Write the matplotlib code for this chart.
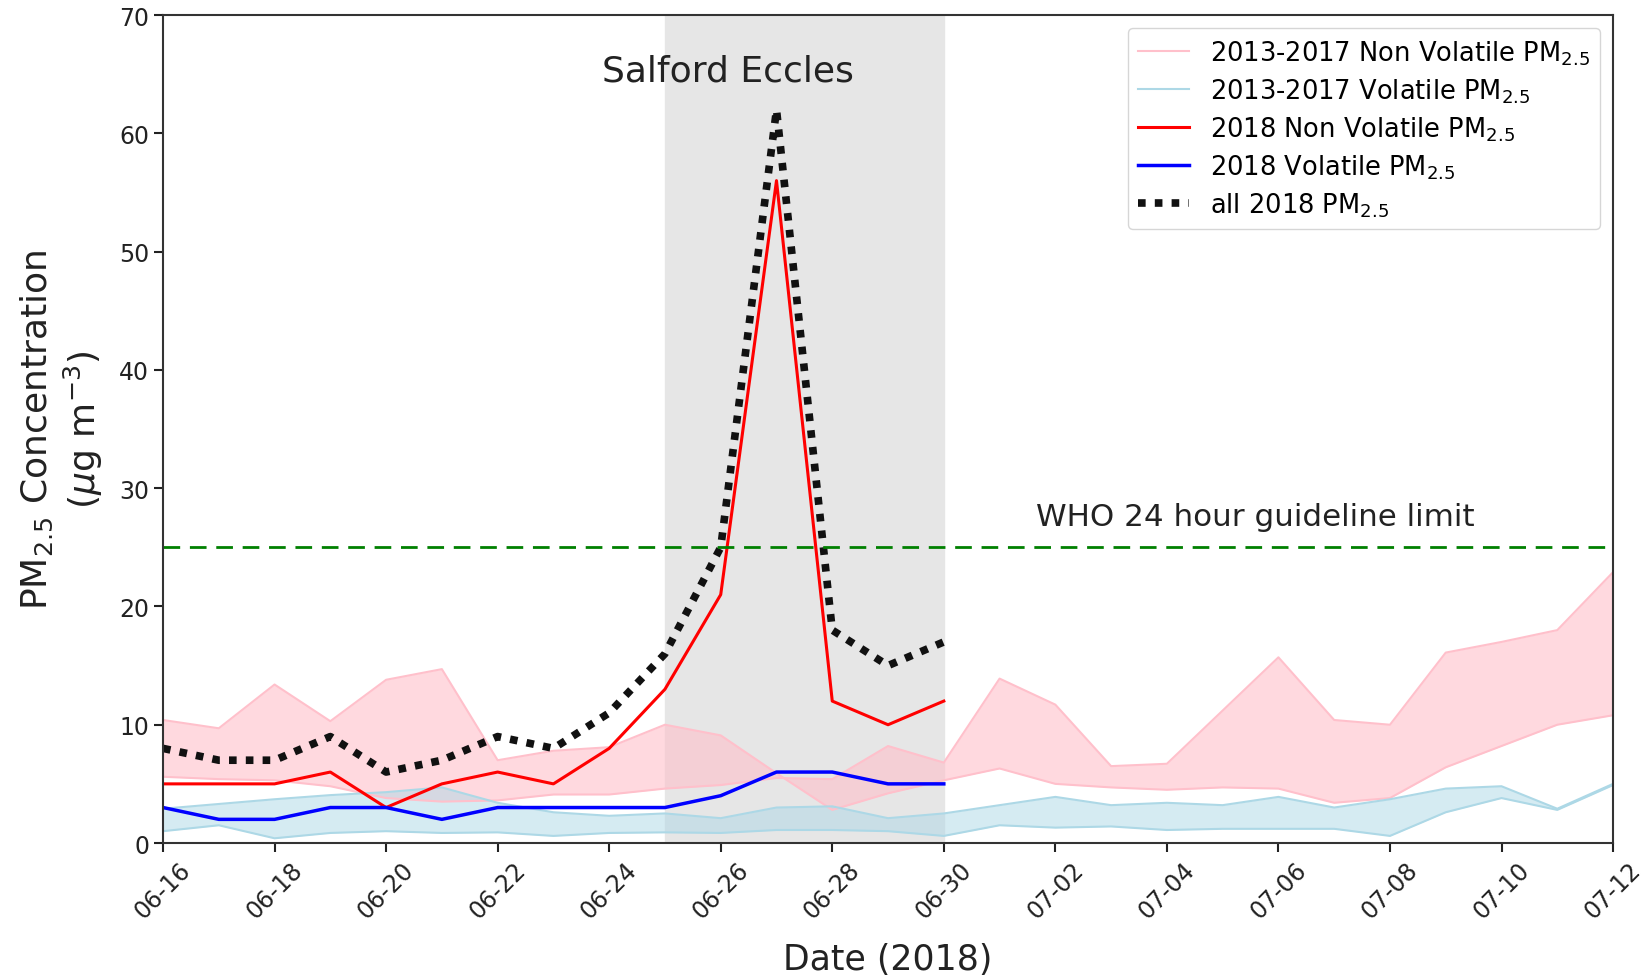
import matplotlib
matplotlib.use('Agg')
import matplotlib.pyplot as plt
import matplotlib.dates as mdates
import pandas as pd

# days 06-16 .. 07-12 (2013-2017 bands) and 06-16 .. 06-30 (2018)
dates_hist = pd.date_range('2018-06-16', '2018-07-12', freq='D')
dates_2018 = pd.date_range('2018-06-16', '2018-06-30', freq='D')

# 2013-2017 non volatile band edges
nv_hist_a = [10.4, 9.7, 13.4, 10.3, 13.8, 14.7, 7.0, 7.8, 8.1, 10.0, 9.1, 5.9, 2.8, 4.2,
             5.3, 6.3, 5.0, 4.7, 4.5, 4.7, 4.6, 3.4, 3.8, 6.4, 8.2, 10.0, 10.8]
nv_hist_b = [5.6, 5.4, 5.3, 4.8, 3.8, 3.5, 3.6, 4.1, 4.1, 4.6, 4.9, 5.5, 5.4, 8.2,
             6.8, 13.9, 11.7, 6.5, 6.7, 11.2, 15.7, 10.4, 10.0, 16.1, 17.0, 18.0, 22.9]

# 2013-2017 volatile band edges
v_hist_a = [2.9, 3.3, 3.7, 4.05, 4.3, 4.7, 3.4, 2.6, 2.3, 2.5, 2.1, 3.0, 3.1, 2.1,
            2.5, 3.2, 3.9, 3.2, 3.4, 3.2, 3.9, 3.0, 3.7, 4.6, 4.8, 2.9, 5.0]
v_hist_b = [1.0, 1.5, 0.4, 0.85, 1.0, 0.85, 0.9, 0.6, 0.85, 0.9, 0.85, 1.1, 1.1, 1.0,
            0.6, 1.5, 1.3, 1.4, 1.1, 1.2, 1.2, 1.2, 0.6, 2.6, 3.8, 2.8, 4.9]

# 2018 series
nv_2018 = [5, 5, 5, 6, 3, 5, 6, 5, 8, 13, 21, 56, 12, 10, 12]
v_2018 = [3, 2, 2, 3, 3, 2, 3, 3, 3, 3, 4, 6, 6, 5, 5]
all_2018 = [8, 7, 7, 9, 6, 7, 9, 8, 11, 16, 25, 62, 18, 15, 17]

who_limit = 25
span_start, span_end = pd.Timestamp('2018-06-25'), pd.Timestamp('2018-06-30')

fig = plt.figure(figsize=(16.5, 9.78), dpi=100)
ax = fig.add_subplot(111)
fig.subplots_adjust(left=0.0988, right=0.9776, top=0.9836, bottom=0.137)

ax.axvspan(span_start, span_end, color='#e6e6e6', zorder=0)

pm = 'PM$_{2.5}$'
ax.plot(dates_hist, nv_hist_a, color='pink', lw=1.5, label='2013-2017 Non Volatile ' + pm)
ax.plot(dates_hist, nv_hist_b, color='pink', lw=1.5)
ax.fill_between(dates_hist, nv_hist_a, nv_hist_b, color='pink', alpha=0.6, lw=0)

ax.plot(dates_hist, v_hist_a, color='lightblue', lw=1.5, label='2013-2017 Volatile ' + pm)
ax.plot(dates_hist, v_hist_b, color='lightblue', lw=1.5)
ax.fill_between(dates_hist, v_hist_a, v_hist_b, color='lightblue', alpha=0.5, lw=0)

ax.plot(dates_2018, nv_2018, color='red', lw=2.2, label='2018 Non Volatile ' + pm)
ax.plot(dates_2018, v_2018, color='blue', lw=2.5, label='2018 Volatile ' + pm)
ax.plot(dates_2018, all_2018, color='#111111', lw=5.5, linestyle=(0, (1, 1.2)),
        label='all 2018 ' + pm)

ax.axhline(who_limit, color='green', lw=2, dashes=(6, 3.5))

ax.text(pd.Timestamp('2018-06-26 03:00'), 65.3, 'Salford Eccles', ha='center', va='center',
        fontsize=26, color='#222222')
ax.text(pd.Timestamp('2018-07-05 14:00'), 27.6, 'WHO 24 hour guideline limit', ha='center',
        va='center', fontsize=22.3, color='#222222')

ax.set_xlim(dates_hist[0], dates_hist[-1])
ax.set_ylim(0, 70)
ax.xaxis.set_major_locator(mdates.DayLocator(interval=2))
ax.xaxis.set_major_formatter(mdates.DateFormatter('%m-%d'))
ax.tick_params(axis='both', labelsize=17, width=1.5, length=6.5, colors='#222222')
for lbl in ax.get_xticklabels():
    lbl.set_rotation(45)
for sp in ax.spines.values():
    sp.set_linewidth(1.5)
    sp.set_color('#333333')

ax.set_xlabel('Date (2018)', fontsize=25, labelpad=14, color='#222222')
ax.set_ylabel('PM$_{2.5}$ Concentration\n($\\mu$g m$^{-3}$)', fontsize=26, color='#222222')
ax.yaxis.set_label_coords(-0.040, 0.5)

ax.legend(loc='upper right', fontsize=18.5, handlelength=2.0, labelspacing=0.37,
          borderaxespad=0.5)

fig.savefig('out.png', dpi=100)
